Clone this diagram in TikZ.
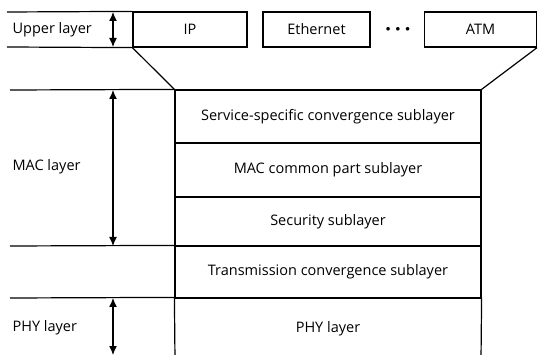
\documentclass[tikz,border=0pt]{standalone}
\usepackage{fontspec}
\setmainfont{Open Sans}
\usetikzlibrary{arrows.meta}
\begin{document}
\begin{tikzpicture}[x=1pt, y=-1pt, line width=1.2pt, font=\fontsize{14.5}{16}\selectfont]
\tikzstyle{box} = [draw=black, minimum height=35pt, inner sep=0pt]
\tikzstyle{sub} = [draw=black, minimum width=306pt, inner sep=0pt]
\tikzstyle{lbl} = [anchor=west, inner sep=0pt]
\tikzstyle{span} = [{Latex[length=9pt,width=8pt]}-{Latex[length=9pt,width=8pt]}]
\useasboundingbox (0,0) rectangle (538,355);

% upper layer protocols
\node[box, minimum width=114pt] (IP) at (190, 29.5) {IP};
\node[box, minimum width=107pt] (Eth) at (316.5, 29.5) {Ethernet};
\node[box, minimum width=112pt] (ATM) at (480.5, 29.5) {ATM};
\node (dots) at (398, 29.5) {\fontsize{9}{9}\selectfont$\bullet\,\,\bullet\,\,\bullet$};

% MAC and PHY sublayers
\node[sub, minimum height=53pt] (SS) at (328, 116.5) {Service-specific convergence sublayer};
\node[sub, minimum height=54pt] (CPS) at (328, 170) {MAC common part sublayer};
\node[sub, minimum height=49pt] (SEC) at (328, 221.5) {Security sublayer};
\node[sub, minimum height=52pt] (TC) at (328, 272) {Transmission convergence sublayer};
\node[minimum width=306pt, minimum height=62pt, inner sep=0pt] (PHY) at (328, 329) {PHY layer};

% left side labels
\node[lbl] (upper) at (12, 29.5) {Upper layer};
\node[lbl] (mac) at (12, 167) {MAC layer};
\node[lbl] (phy) at (12, 328) {PHY layer};

\coordinate (u1) at (7, 12);
\coordinate (u2) at (7, 47);
\coordinate (m1) at (10, 90);
\coordinate (m2) at (10, 246);
\coordinate (p1) at (10, 298);
\coordinate (pl) at (175, 360);
\coordinate (pr) at (481, 360);

\draw (u1) -- (IP.north west);
\draw (u2) -- (IP.south west);
\draw (m1) -- (SS.north west);
\draw (m2) -- (TC.north west);
\draw (p1) -- (PHY.north west);
\draw (PHY.north west) -- (pl);
\draw (PHY.north east) -- (pr);
\draw (IP.south west) -- (SS.north west);
\draw (ATM.south east) -- (SS.north east);

% extent arrows
\coordinate (a1) at (113, 12);
\coordinate (a2) at (113, 47);
\coordinate (a3) at (113, 90);
\coordinate (a4) at (113, 246);
\coordinate (a5) at (113, 298);
\coordinate (a6) at (113, 355);
\draw[span] (a1) -- (a2);
\draw[span] (a3) -- (a4);
\draw[span] (a5) -- (a6);
\end{tikzpicture}
\end{document}
